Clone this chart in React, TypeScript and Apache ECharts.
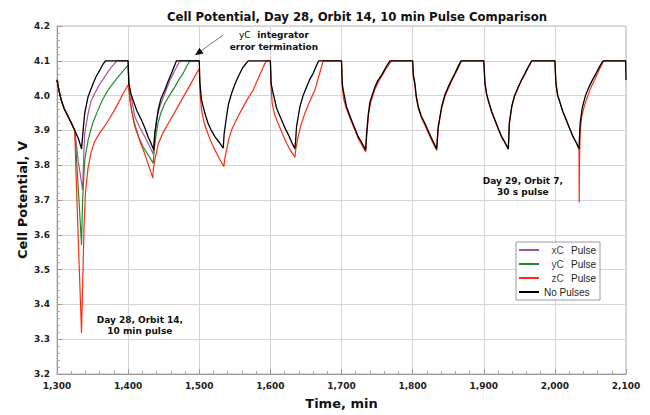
import React, { useEffect, useRef } from "react";
import * as echarts from "echarts";

const chartTitle = "Cell Potential, Day 28, Orbit 14, 10 min Pulse Comparison";
const xAxisTitle = "Time, min";
const yAxisTitle = "Cell Potential, V";
const xRange = [1300, 2100];
const yRange = [3.2, 4.2];
const seriesNames = ["xC Pulse", "yC Pulse", "zC Pulse", "No Pulses"];
const seriesColors = ["#a8529a", "#1f8a2e", "#ff2a10", "#000000"];

// Time (min), cell potential (V)
const xcPulse: number[][] = [
  [1300, 4.045], [1303, 4.012], [1306, 3.987], [1310, 3.963], [1315.6, 3.94], [1320, 3.922], [1325, 3.9],
  [1330, 3.81], [1336, 3.729], [1337.5, 3.82], [1339, 3.892], [1343.8, 3.949], [1348, 3.985], [1353, 4.006],
  [1360, 4.033], [1367, 4.054], [1375, 4.078], [1384, 4.1], [1400, 4.1],
  [1401, 4.03], [1404, 4.0], [1409.4, 3.94], [1416, 3.91], [1423.5, 3.882], [1430, 3.855], [1435.2, 3.832],
  [1437, 3.885], [1440, 3.93], [1444, 3.965], [1451, 4.003], [1458, 4.04], [1465, 4.07], [1472.8, 4.1], [1500, 4.1],
];

const ycPulse: number[][] = [
  [1300, 4.045], [1303, 4.012], [1306, 3.987], [1310, 3.963], [1315.6, 3.94], [1320, 3.922], [1325, 3.9],
  [1330, 3.73], [1334.5, 3.571], [1336, 3.7], [1339, 3.815], [1343.8, 3.873], [1350, 3.92], [1357.8, 3.959],
  [1364, 3.988], [1371.9, 4.016], [1379, 4.036], [1386, 4.054], [1393, 4.071], [1400, 4.087],
  [1401, 4.03], [1402.4, 3.987], [1406, 3.945], [1409.4, 3.911], [1415, 3.88], [1421, 3.853], [1428, 3.83],
  [1435.2, 3.806], [1437, 3.85], [1439.5, 3.89], [1442, 3.92], [1446, 3.95], [1451.6, 3.978], [1458, 4.0],
  [1465.7, 4.025], [1471, 4.045], [1477.4, 4.064], [1482, 4.083], [1486.8, 4.1], [1500, 4.1],
];

const zcPulse: number[][] = [
  [1300, 4.045], [1303, 4.012], [1306, 3.987], [1310, 3.963], [1315.6, 3.94], [1320, 3.922], [1325, 3.9],
  [1327, 3.76], [1330, 3.58], [1334.5, 3.318], [1336, 3.45], [1338, 3.62], [1340, 3.72], [1343.5, 3.79],
  [1348, 3.838], [1353, 3.868], [1360, 3.893], [1367, 3.912], [1374, 3.935], [1381, 3.959], [1387, 3.982],
  [1393, 4.006], [1400, 4.03],
  [1401, 4.016], [1404.8, 3.959], [1408, 3.928], [1411.8, 3.901], [1417, 3.866], [1423.5, 3.832], [1429, 3.798],
  [1434.7, 3.763], [1435.5, 3.79], [1437.6, 3.815], [1442.2, 3.86], [1449, 3.893], [1456.3, 3.92], [1465, 3.95],
  [1475, 3.987], [1487, 4.03], [1498.5, 4.073], [1500, 4.076],
  [1501, 4.01], [1503.2, 3.959], [1506.5, 3.925], [1510.3, 3.901], [1516, 3.87], [1522, 3.844], [1528, 3.82],
  [1534.6, 3.796], [1536, 3.82], [1538.4, 3.844], [1541.5, 3.875], [1545.4, 3.901], [1552, 3.93], [1559.5, 3.959],
  [1567, 3.987], [1575.8, 4.016], [1584, 4.055], [1592.3, 4.093], [1595, 4.1], [1600, 4.1],
  [1601, 4.03], [1602.5, 3.978], [1606, 3.945], [1611, 3.92], [1617, 3.89], [1622.8, 3.863], [1628.5, 3.842],
  [1634.5, 3.823], [1636, 3.85], [1639, 3.882], [1643, 3.915], [1648.5, 3.949], [1655, 3.982], [1662.6, 4.016],
  [1668, 4.055], [1674.3, 4.1], [1700, 4.1],
  [1701, 4.03], [1703, 3.99], [1707, 3.962], [1714, 3.925], [1719, 3.9], [1723.5, 3.877], [1729, 3.857],
  [1734, 3.838], [1735.5, 3.885], [1738, 3.945], [1741, 3.98], [1747, 4.018], [1752, 4.04], [1757, 4.057],
  [1764, 4.082], [1770.5, 4.1], [1800, 4.1],
  [1801, 4.055], [1803.2, 4.03], [1805, 3.995], [1808, 3.963], [1812, 3.938], [1817.3, 3.915], [1822, 3.893],
  [1826.7, 3.872], [1830, 3.858], [1834, 3.842], [1834.8, 3.87], [1836.3, 3.91], [1841, 3.965], [1845, 3.996],
  [1850, 4.02], [1855, 4.043], [1860, 4.062], [1865, 4.083], [1869, 4.1], [1900, 4.1],
  [1901.7, 4.035], [1904, 4.005], [1906.3, 3.985], [1911, 3.953], [1915.8, 3.928], [1920.5, 3.903], [1925.2, 3.88],
  [1930, 3.863], [1934.5, 3.845], [1935.2, 3.878], [1936, 3.918], [1939.4, 3.966], [1943, 3.996], [1948.5, 4.023],
  [1953, 4.043], [1958.2, 4.062], [1963, 4.082], [1968, 4.1], [2000, 4.1],
  [2001.5, 4.035], [2004, 4.0], [2006.5, 3.985], [2011, 3.955], [2016, 3.93], [2021, 3.905], [2025.5, 3.882],
  [2030, 3.865], [2033.9, 3.847], [2034.2, 3.693], [2034.7, 3.82], [2035.5, 3.895], [2037.7, 3.94], [2041, 3.967],
  [2044.7, 3.99], [2050, 4.02], [2056.4, 4.048], [2062, 4.073], [2068, 4.097], [2070, 4.1], [2100, 4.1],
];

const noPulses: number[][] = [
  [1300, 4.045], [1303, 4.012], [1306, 3.987], [1310, 3.963], [1315.6, 3.94], [1320, 3.922], [1325, 3.9],
  [1330, 3.877], [1334.5, 3.847], [1336.7, 3.9], [1339, 3.95], [1343.7, 3.997], [1350.8, 4.035], [1355, 4.055],
  [1360.2, 4.073], [1364, 4.088], [1368.2, 4.1], [1400, 4.1],
  [1401, 4.035], [1404, 4.005], [1407, 3.987], [1412, 3.958], [1418.8, 3.93], [1424, 3.905], [1428, 3.882],
  [1432, 3.864], [1436.1, 3.844], [1437.6, 3.892], [1442.2, 3.959], [1446, 3.99], [1451.6, 4.016], [1456, 4.04],
  [1461, 4.064], [1465, 4.085], [1468, 4.1], [1500, 4.1],
  [1501, 4.035], [1503, 3.99], [1505.5, 3.968], [1509, 3.942], [1512.5, 3.92], [1517, 3.9], [1522, 3.882],
  [1528, 3.866], [1533.7, 3.849], [1535, 3.89], [1538.4, 3.94], [1541, 3.975], [1545.4, 4.006], [1550, 4.032],
  [1554.7, 4.054], [1561, 4.08], [1568.8, 4.1], [1600, 4.1],
  [1601, 4.035], [1604, 4.006], [1609, 3.962], [1615.8, 3.93], [1621, 3.905], [1626, 3.885], [1630, 3.866],
  [1634.4, 3.847], [1635.5, 3.87], [1636.8, 3.911], [1641.5, 3.968], [1646, 4.0], [1650.9, 4.025], [1655, 4.045],
  [1660.2, 4.064], [1664, 4.083], [1668, 4.1], [1700, 4.1],
  [1701, 4.035], [1702.4, 4.016], [1707, 3.968], [1714, 3.93], [1719, 3.905], [1723.5, 3.882], [1729, 3.863],
  [1733.9, 3.844], [1735.3, 3.892], [1737.6, 3.945], [1740, 3.982], [1747, 4.025], [1751, 4.043], [1756.4, 4.059],
  [1762, 4.08], [1768, 4.1], [1800, 4.1],
  [1801, 4.06], [1803.2, 4.035], [1805, 4.0], [1807.9, 3.968], [1812, 3.942], [1817.3, 3.92], [1822, 3.898],
  [1826.7, 3.877], [1830, 3.863], [1833.7, 3.847], [1834.5, 3.87], [1836, 3.911], [1840.8, 3.968], [1845, 4.0],
  [1850, 4.025], [1855, 4.046], [1859.5, 4.064], [1864, 4.084], [1868, 4.1], [1900, 4.1],
  [1901.7, 4.035], [1904, 4.005], [1906.3, 3.987], [1911, 3.955], [1915.8, 3.93], [1920.5, 3.905], [1925.2, 3.882],
  [1930, 3.865], [1934.5, 3.847], [1935.2, 3.88], [1935.9, 3.92], [1939.2, 3.968], [1943, 3.998], [1948.5, 4.025],
  [1953, 4.045], [1958, 4.064], [1963, 4.084], [1967.4, 4.1], [2000, 4.1],
  [2001.5, 4.035], [2004, 4.0], [2006.5, 3.985], [2011, 3.955], [2016, 3.93], [2021, 3.905], [2025.5, 3.882],
  [2030, 3.865], [2033.9, 3.847], [2034.6, 3.88], [2035.5, 3.92], [2038.5, 3.965], [2043, 4.0], [2048, 4.025],
  [2053, 4.046], [2058, 4.064], [2063, 4.084], [2067.7, 4.1], [2099.5, 4.1], [2100, 4.045],
];

// Annotation anchors in data coordinates
const noteDay28 = { lines: ["Day 28, Orbit 14,", "10 min pulse"], at: [1416.5, 3.339] };
const noteDay29 = { lines: ["Day 29, Orbit 7,", "30 s pulse"], at: [1955, 3.739] };
const noteTermination = { tag: "yC", lines: ["integrator", "error termination"], at: [1605, 4.156] };
const arrowTail = [1533.6, 4.174];
const arrowTip = [1494, 4.116];

const FONT = "'DejaVu Sans', Verdana, sans-serif";

export default function App() {
  const ref = useRef<HTMLDivElement>(null);
  useEffect(() => {
    if (!ref.current) return;
    const chart = echarts.init(ref.current, undefined, { renderer: "svg" });
    const seriesData = [xcPulse, ycPulse, zcPulse, noPulses];
    const option: any = {
      animation: false,
      backgroundColor: "#ffffff",
      title: {
        text: chartTitle,
        left: 352,
        textAlign: "center",
        top: 6,
        textStyle: { fontFamily: FONT, fontSize: 11.7, fontWeight: "bold", color: "#111" },
      },
      grid: {
        left: 57, right: 24, top: 26, bottom: 40,
        show: true, borderColor: "#b8b8b8", borderWidth: 1, backgroundColor: "transparent",
      },
      legend: {
        orient: "vertical",
        left: 516,
        top: 242,
        data: seriesNames,
        icon: "rect",
        itemWidth: 20,
        itemHeight: 2,
        itemGap: 2,
        padding: [2, 4, 2, 3],
        borderColor: "#9a9a9a",
        borderWidth: 1,
        backgroundColor: "#ffffff",
        selectedMode: false,
        formatter: (name: string) => {
          if (name === "No Pulses") return name;
          const parts = name.split(" ");
          return `{c|${parts[0]}}{p|${parts[1]}}`;
        },
        textStyle: {
          fontFamily: "'Liberation Sans', Arial, sans-serif",
          fontSize: 10,
          color: "#222",
          lineHeight: 12,
          rich: {
            c: { width: 27, align: "center", fontSize: 10, color: "#444", fontFamily: "'Liberation Sans', Arial, sans-serif" },
            p: { fontSize: 10, color: "#222", fontFamily: "'Liberation Sans', Arial, sans-serif" },
          },
        },
      },
      xAxis: {
        type: "value",
        min: xRange[0],
        max: xRange[1],
        interval: 100,
        name: xAxisTitle,
        nameLocation: "middle",
        nameGap: 23,
        nameTextStyle: { fontFamily: FONT, fontSize: 13, fontWeight: "bold", color: "#111" },
        axisLine: { show: true, lineStyle: { color: "#999" } },
        axisTick: { show: true, inside: true, length: 5, lineStyle: { color: "#999" } },
        minorTick: { show: true, splitNumber: 5, length: 3, lineStyle: { color: "#aaa" } },
        axisLabel: {
          fontFamily: FONT, fontSize: 9, fontWeight: "bold", color: "#222", margin: 7,
          formatter: (v: number) => v.toLocaleString("en-US"),
        },
        splitLine: { show: true, lineStyle: { color: "#d4d4d4", width: 1 } },
      },
      yAxis: {
        type: "value",
        min: yRange[0],
        max: yRange[1],
        interval: 0.1,
        name: yAxisTitle,
        nameLocation: "middle",
        nameGap: 28,
        nameMoveOverlap: false,
        nameTextStyle: { fontFamily: FONT, fontSize: 13, fontWeight: "bold", color: "#111" },
        axisLine: { show: true, lineStyle: { color: "#999" } },
        axisTick: { show: true, inside: true, length: 5, lineStyle: { color: "#999" } },
        minorTick: { show: true, splitNumber: 5, length: 3, lineStyle: { color: "#aaa" } },
        axisLabel: {
          fontFamily: FONT, fontSize: 9, fontWeight: "bold", color: "#222", margin: 7,
          formatter: (v: number) => v.toFixed(1),
        },
        splitLine: { show: true, lineStyle: { color: "#d4d4d4", width: 1 } },
      },
      series: seriesNames.map((name, i) => ({
        name,
        type: "line",
        data: seriesData[i],
        showSymbol: false,
        symbol: "none",
        smooth: false,
        lineStyle: { color: seriesColors[i], width: i === 3 ? 1.3 : 1.2 },
        itemStyle: { color: seriesColors[i] },
        z: 2 + i,
      })),
    };
    chart.setOption(option);

    const px = (p: number[]) => chart.convertToPixel({ gridIndex: 0 }, p) as number[];
    const boldText = { fontFamily: FONT, fontSize: 9, fontWeight: "bold", fill: "#111" };
    const noteGraphic = (note: { lines: string[]; at: number[] }) => {
      const p = px(note.at);
      return {
        type: "text",
        x: p[0],
        y: p[1],
        style: { ...boldText, text: note.lines.join("\n"), align: "center", verticalAlign: "middle", lineHeight: 11.5 },
        z: 100,
      };
    };
    const t = px(noteTermination.at);
    const tail = px(arrowTail);
    const tip = px(arrowTip);
    const dx = tip[0] - tail[0];
    const dy = tip[1] - tail[1];
    const len = Math.sqrt(dx * dx + dy * dy);
    const ux = dx / len;
    const uy = dy / len;
    const headLen = 8;
    const headW = 3.5;
    const base = [tip[0] - ux * headLen, tip[1] - uy * headLen];
    chart.setOption({
      graphic: [
        noteGraphic(noteDay28),
        noteGraphic(noteDay29),
        {
          type: "text",
          x: t[0],
          y: t[1],
          style: {
            text: `{r|${noteTermination.tag}}  {b|${noteTermination.lines[0]}}\n{b|${noteTermination.lines[1]}}`,
            align: "center",
            verticalAlign: "middle",
            rich: {
              r: { fontFamily: FONT, fontSize: 9, color: "#222", lineHeight: 12 },
              b: { ...boldText, lineHeight: 12 },
            },
          },
          z: 100,
        },
        {
          type: "line",
          shape: { x1: tail[0], y1: tail[1], x2: base[0], y2: base[1] },
          style: { stroke: "#777", lineWidth: 1 },
          z: 100,
        },
        {
          type: "polygon",
          shape: {
            points: [
              [tip[0], tip[1]],
              [base[0] - uy * headW, base[1] + ux * headW],
              [base[0] + uy * headW, base[1] - ux * headW],
            ],
          },
          style: { fill: "#111" },
          z: 100,
        },
      ],
    });
    return () => chart.dispose();
  }, []);
  return (
    <div
      ref={ref}
      style={{ position: "fixed", left: 0, top: 0, width: 650, height: 415, background: "#fff" }}
    />
  );
}
